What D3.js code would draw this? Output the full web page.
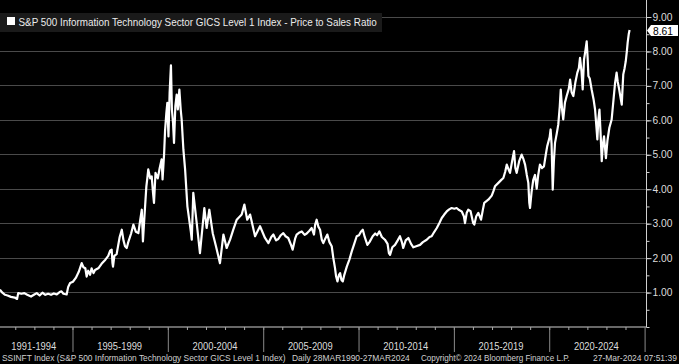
<!DOCTYPE html>
<html><head><meta charset="utf-8">
<script src="https://cdn.jsdelivr.net/npm/d3@7"></script>
<style>html,body{margin:0;padding:0;background:#000;overflow:hidden}</style>
</head><body>
<svg id="c" width="679" height="364"></svg>
<script>
const title = "S&P 500 Information Technology Sector GICS Level 1 Index - Price to Sales Ratio";
const yMajorTicks = [1,2,3,4,5,6,7,8,9];
const periodLabels = ["1991-1994","1995-1999","2000-2004","2005-2009","2010-2014","2015-2019","2020-2024"];
const periodStarts = [1991,1995,2000,2005,2010,2015,2020];
const periodEnds = [1995,2000,2005,2010,2015,2020,2025];
const lastValueLabel = "8.61";
const footerTexts = ["SSINFT Index (S&P 500 Information Technology Sector GICS Level 1 Index)","Daily 28MAR1990-27MAR2024","Copyright\u00a9 2024 Bloomberg Finance L.P.","27-Mar-2024 07:51:39"];

// decimal years and price-to-sales values
const years = [
1991.22,1991.35,1991.49,1991.62,1991.80,1992.00,1992.12,1992.18,1992.35,1992.50,1992.65,1992.85,1993.00,1993.15,1993.30,1993.45,1993.60,1993.75,1993.90,1994.05,1994.20,1994.35,1994.45,1994.55,1994.72,1994.80,1994.90,1995.05,1995.20,1995.35,1995.51,1995.60,1995.70,1995.77,1995.85,1995.95,1996.03,1996.13,1996.21,1996.40,1996.55,1996.75,1996.90,1997.00,1997.08,1997.12,1997.15,1997.22,1997.34,1997.50,1997.61,1997.70,1997.78,1997.87,1997.95,1998.10,1998.22,1998.35,1998.48,1998.58,1998.66,1998.72,1998.80,1998.90,1998.95,1999.00,1999.10,1999.18,1999.25,1999.30,1999.38,1999.50,1999.60,1999.70,1999.75,1999.83,1999.88,1999.95,2000.00,2000.06,2000.12,2000.19,2000.24,2000.30,2000.35,2000.42,2000.49,2000.55,2000.63,2000.70,2000.75,2000.84,2000.93,2001.05,2001.23,2001.28,2001.36,2001.54,2001.71,2001.94,2002.06,2002.20,2002.38,2002.55,2002.76,2002.94,2003.11,2003.29,2003.45,2003.64,2003.90,2004.04,2004.19,2004.34,2004.60,2004.86,
2005.12,2005.30,2005.45,2005.56,2005.70,2005.82,2005.95,2006.08,2006.20,2006.34,2006.50,2006.57,2006.70,2006.78,2006.90,2007.05,2007.20,2007.31,2007.45,2007.57,2007.69,2007.75,2007.83,2007.92,2008.01,2008.10,2008.18,2008.28,2008.39,2008.50,2008.62,2008.70,2008.79,2008.85,2008.92,2009.00,2009.06,2009.13,2009.20,2009.28,2009.41,2009.55,2009.67,2009.80,2009.93,2010.05,2010.15,2010.25,2010.35,2010.49,2010.60,2010.77,2010.90,2011.00,2011.12,2011.25,2011.41,2011.55,2011.62,2011.68,2011.80,2011.94,2012.08,2012.20,2012.30,2012.37,2012.50,2012.64,2012.78,2012.90,2013.05,2013.25,2013.40,2013.60,2013.75,2013.86,2014.00,2014.13,2014.26,2014.39,2014.52,2014.65,2014.78,2014.91,2015.05,2015.17,2015.30,2015.44,2015.55,2015.61,2015.70,2015.78,2015.90,2016.04,2016.10,2016.20,2016.31,2016.45,2016.55,2016.62,2016.83,2017.01,2017.10,2017.18,2017.36,2017.50,2017.62,2017.72,2017.80,2017.90,2017.97,2018.08,2018.18,2018.25,2018.32,2018.45,2018.58,2018.68,2018.76,2018.85,2018.93,2018.98,2019.02,2019.10,2019.19,2019.28,2019.37,2019.45,2019.54,2019.65,2019.75,2019.85,2019.92,2020.05,2020.10,2020.15,2020.21,2020.27,2020.33,2020.42,2020.50,2020.58,2020.63,2020.70,2020.76,2020.85,2020.94,2021.05,2021.12,2021.20,2021.29,2021.40,2021.50,2021.58,2021.64,2021.72,2021.78,2021.85,2021.92,2021.99,2022.04,2022.08,2022.15,2022.25,2022.35,2022.43,2022.50,2022.55,2022.60,2022.66,2022.72,2022.78,2022.84,2022.90,2022.95,2023.00,2023.08,2023.18,2023.30,2023.40,2023.48,2023.56,2023.62,2023.69,2023.78,2023.83,2023.88,2023.91,2023.98,2024.04,2024.10,2024.14,2024.20,2024.24
];
const values = [
1.07,0.98,0.92,0.90,0.86,0.84,0.80,0.97,0.95,0.97,0.92,0.87,0.92,0.97,0.90,0.98,0.92,0.95,0.92,0.96,0.93,1.00,1.02,0.95,0.93,1.15,1.26,1.30,1.41,1.58,1.84,1.72,1.69,1.45,1.62,1.50,1.69,1.55,1.64,1.70,1.82,1.94,2.05,2.20,2.23,1.85,1.74,2.05,2.10,2.60,2.81,2.50,2.33,2.28,2.45,2.70,2.96,2.75,2.71,3.10,3.39,2.47,3.20,4.07,4.30,4.56,4.30,4.36,3.88,3.59,4.46,4.30,4.60,4.85,4.27,5.00,5.67,6.20,6.49,5.52,6.78,7.58,6.30,5.90,5.33,6.40,6.73,6.30,6.88,6.30,6.01,5.14,4.56,3.49,2.76,2.52,3.88,3.00,2.13,3.44,2.86,3.39,2.71,2.33,1.84,2.67,2.28,2.52,2.80,3.10,3.25,3.54,3.10,3.25,2.62,2.91,
2.57,2.42,2.60,2.67,2.50,2.54,2.65,2.71,2.62,2.57,2.35,2.23,2.55,2.67,2.72,2.76,2.66,2.70,2.78,2.86,2.67,2.95,3.10,2.90,2.81,2.52,2.42,2.55,2.67,2.45,2.33,2.00,1.70,1.45,1.31,1.50,1.55,1.35,1.31,1.50,1.74,1.95,2.18,2.40,2.62,2.65,2.75,2.81,2.60,2.37,2.45,2.62,2.70,2.65,2.76,2.60,2.52,2.40,2.13,2.08,2.30,2.37,2.50,2.62,2.45,2.28,2.50,2.57,2.40,2.30,2.33,2.37,2.45,2.52,2.60,2.62,2.75,2.86,3.00,3.15,3.25,3.34,3.40,3.44,3.42,3.44,3.38,3.34,3.20,3.00,3.30,3.39,3.35,3.00,2.96,3.20,3.30,3.10,3.40,3.59,3.68,3.80,3.93,4.07,4.17,4.25,4.31,4.50,4.70,4.55,4.46,4.80,5.09,4.60,4.46,4.80,4.99,4.85,4.70,4.40,4.17,3.60,3.44,3.90,4.26,4.40,4.00,4.40,4.70,4.60,4.65,5.00,5.23,5.50,5.72,5.30,3.97,4.80,5.33,5.60,5.86,6.40,6.88,6.30,6.01,6.50,6.69,6.90,7.17,6.80,6.69,7.10,7.37,7.50,7.80,7.40,6.88,7.75,8.00,8.28,7.80,7.27,7.20,6.88,6.60,6.30,5.80,5.43,6.00,6.30,5.60,4.80,5.30,5.52,5.20,4.89,5.40,5.77,6.01,6.60,7.07,7.37,7.10,6.90,6.60,6.44,7.00,7.32,7.50,7.70,8.00,8.24,8.50,8.61
];

function toDate(y){const yr=Math.floor(y);const s=Date.UTC(yr,0,1),e=Date.UTC(yr+1,0,1);return new Date(s+(y-yr)*(e-s));}
const data = years.map((y,i)=>({date:toDate(y), value:values[i]}));

const W=679,H=364, plotR=646, y0px=326.5, y9px=16.5;
const FONT="Liberation Sans, Arial, sans-serif";
const svg=d3.select("#c");
svg.append("rect").attr("width",W).attr("height",H).attr("fill","#000");

// place text at (x,y) squeezed horizontally to a target width, anchored start or middle
function fitText(parent, str, x, y, width, size, fill, anchor){
  const g=parent.append("g");
  const t=g.append("text").attr("x",0).attr("y",0).attr("fill",fill)
    .attr("font-family",FONT).attr("font-size",size).text(str);
  const nat=t.node().getComputedTextLength();
  const s=width/nat;
  const x0 = anchor==="middle" ? x-width/2 : x;
  g.attr("transform",`translate(${x0},${y}) scale(${s},1)`);
  return g;
}

const x=d3.scaleUtc().domain([toDate(1991.225),toDate(2025.1)]).range([0,plotR]);
const y=d3.scaleLinear().domain([0,9]).range([y0px,y9px]);

// gridlines
svg.append("g").selectAll("line").data(yMajorTicks).join("line")
  .attr("x1",0).attr("x2",plotR).attr("y1",d=>Math.round(y(d))+0.5).attr("y2",d=>Math.round(y(d))+0.5)
  .attr("stroke","#4a4a4a").attr("stroke-width",1.2);

// line
svg.append("clipPath").attr("id","clip").append("rect").attr("x",0).attr("y",0).attr("width",plotR).attr("height",y0px);
svg.append("path").datum(data).attr("clip-path","url(#clip)")
  .attr("fill","none").attr("stroke","#fff").attr("stroke-width",2.2).attr("stroke-linejoin","round")
  .attr("d",d3.line().x(d=>x(d.date)).y(d=>y(d.value)));

// title box
svg.append("rect").attr("x",0).attr("y",13).attr("width",382).attr("height",19).attr("fill","#1a1a1a");
svg.append("rect").attr("x",7).attr("y",17).attr("width",8).attr("height",8).attr("fill","#fff");
fitText(svg, title, 18.5, 26, 359, 11, "#ececec", "start");

// right axis
const axisCol="#cfcfcf";
svg.append("line").attr("x1",plotR+0.5).attr("x2",plotR+0.5).attr("y1",0).attr("y2",y0px+0.5).attr("stroke",axisCol);
const gR=svg.append("g").attr("transform",`translate(${plotR+0.5},0.5)`);
gR.call(d3.axisRight(y).tickValues(d3.range(0,9.01,0.5)).tickSize(3).tickFormat(""));
gR.call(g=>g.select(".domain").remove());
const gR2=svg.append("g").attr("transform",`translate(${plotR+0.5},0.5)`);
gR2.call(d3.axisRight(y).tickValues(yMajorTicks).tickSize(5).tickFormat(""));
gR2.call(g=>g.select(".domain").remove());
svg.selectAll(".tick line").attr("stroke",axisCol);
const fmt=d3.format(".2f");
yMajorTicks.forEach(v=>fitText(svg, fmt(v), 652.5, y(v)+4, 20, 10.5, "#dcdcdc", "start"));

// last value label
const ly=Math.round(y(values[values.length-1]))+0.5;
svg.append("path").attr("d",`M${plotR+1},${ly} L${plotR+5},${ly-5.5} L678,${ly-5.5} L678,${ly+5.5} L${plotR+5},${ly+5.5} Z`).attr("fill","#fff");
fitText(svg, lastValueLabel, plotR+7, ly+4, 20, 10.5, "#000", "start");

// bottom axis
svg.append("line").attr("x1",0).attr("x2",plotR+1).attr("y1",y0px+0.5).attr("y2",y0px+0.5).attr("stroke",axisCol);
const yearTicks=d3.range(1992,2025).map(v=>toDate(v));
const gB=svg.append("g").attr("transform",`translate(0.5,${y0px+0.5})`);
gB.call(d3.axisBottom(x).tickValues(yearTicks).tickSize(3).tickFormat(""));
gB.call(g=>g.select(".domain").remove());
gB.selectAll(".tick line").attr("stroke","#aaa");
const sepTicks=periodEnds.map(v=>toDate(v));
const gS=svg.append("g").attr("transform",`translate(0.5,${y0px+0.5})`);
gS.call(d3.axisBottom(x).tickValues(sepTicks).tickSize(25).tickFormat(""));
gS.call(g=>g.select(".domain").remove());
gS.selectAll(".tick line").attr("stroke","#8a8a8a");

periodLabels.forEach((d,i)=>{
  const cx=(x(toDate(periodStarts[i]))+x(toDate(periodEnds[i])))/2;
  fitText(svg, d, cx, 349.5, 45, 10.5, "#dcdcdc", "middle");
});

// footer
const footX=[2,292,421,593], footW=[284,118,149,84];
footerTexts.forEach((d,i)=>fitText(svg, d, footX[i], 360.5, footW[i], 9, "#d0d0d0", "start"));
</script>
</body></html>
